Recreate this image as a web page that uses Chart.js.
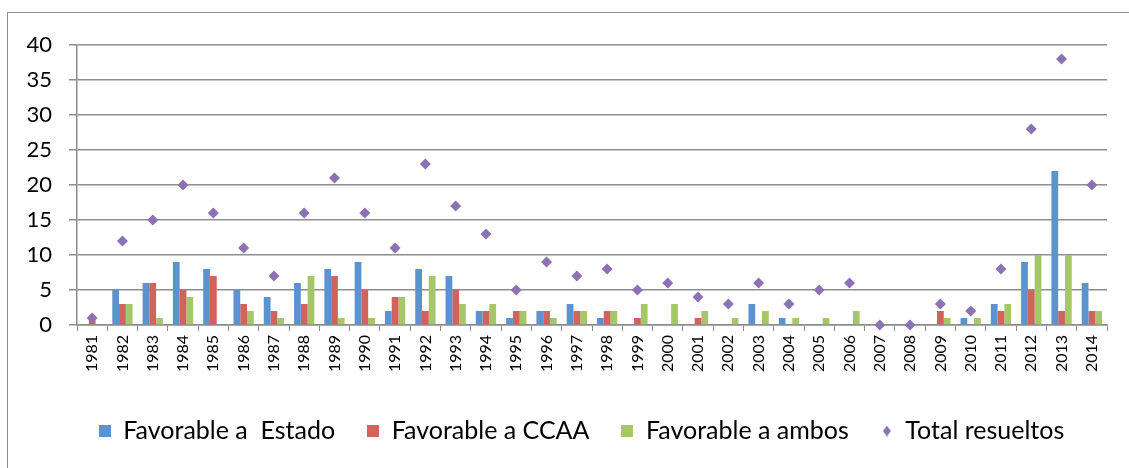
<!DOCTYPE html>
<html>
<head>
<meta charset="utf-8">
<script src="https://cdn.jsdelivr.net/npm/chart.js@4/dist/chart.umd.min.js"></script>
<style>
  html, body { margin: 0; padding: 0; background: #fff; }
  #wrap { position: relative; width: 1129px; height: 468px; }
  #frame { position: absolute; left: 7px; top: 12px; right: -5px; bottom: -5px; border-left: 1px solid #8c8c8c; border-top: 1px solid #8c8c8c; }
  canvas { position: absolute; left: 0; top: 0; }
</style>
</head>
<body>
<div id="wrap">
  <div id="frame"></div>
  <canvas id="c" width="1129" height="468"></canvas>
</div>
<script>
const years = ['1981','1982','1983','1984','1985','1986','1987','1988','1989','1990','1991','1992','1993','1994','1995','1996','1997','1998','1999','2000','2001','2002','2003','2004','2005','2006','2007','2008','2009','2010','2011','2012','2013','2014'];
const favorableEstado = [0,5,6,9,8,5,4,6,8,9,2,8,7,2,1,2,3,1,0,0,0,0,3,1,0,0,0,0,0,1,3,9,22,6];
const favorableCCAA   = [1,3,6,5,7,3,2,3,7,5,4,2,5,2,2,2,2,2,1,0,1,0,0,0,0,0,0,0,2,0,2,5,2,2];
const favorableAmbos  = [0,3,1,4,0,2,1,7,1,1,4,7,3,3,2,1,2,2,3,3,2,1,2,1,1,2,0,0,1,1,3,10,10,2];
const totalResueltos  = [1,12,15,20,16,11,7,16,21,16,11,23,17,13,5,9,7,8,5,6,4,3,6,3,5,6,0,0,3,2,8,28,38,20];
const yTicks = [0,5,10,15,20,25,30,35,40];

const seriesNames = ['Favorable a  Estado','Favorable a CCAA','Favorable a ambos','Total resueltos'];
const colors = ['#5B93D0','#D0635C','#A6C66A','#8C72B4'];

function squareMarker(color) {
  const cv = document.createElement('canvas');
  cv.width = 12; cv.height = 12;
  const g = cv.getContext('2d');
  g.fillStyle = color; g.fillRect(0,0,12,12);
  return cv;
}
function diamondMarker(color) {
  const cv = document.createElement('canvas');
  cv.width = 8; cv.height = 11;
  const g = cv.getContext('2d');
  g.fillStyle = color;
  g.beginPath(); g.moveTo(4,0); g.lineTo(8,5.5); g.lineTo(4,11); g.lineTo(0,5.5); g.closePath(); g.fill();
  return cv;
}
const legendMarkers = [squareMarker(colors[0]), squareMarker(colors[1]), squareMarker(colors[2]), diamondMarker(colors[3])];

const FONT = 'Lato, "Open Sans", sans-serif';

const shiftLegend = {
  id: 'shiftLegend',
  afterLayout(chart) {
    const d = 28;
    chart.legend.left += d;
    chart.legend.right += d;
  }
};

new Chart(document.getElementById('c'), {
  type: 'bar',
  data: {
    labels: years,
    datasets: [
      { label: seriesNames[0], data: favorableEstado, backgroundColor: colors[0], order: 1, categoryPercentage: 0.67, barPercentage: 1.0 },
      { label: seriesNames[1], data: favorableCCAA, backgroundColor: colors[1], order: 1, categoryPercentage: 0.67, barPercentage: 1.0 },
      { label: seriesNames[2], data: favorableAmbos, backgroundColor: colors[2], order: 1, categoryPercentage: 0.67, barPercentage: 1.0 },
      { type: 'line', label: seriesNames[3], data: totalResueltos, showLine: false, pointStyle: 'rectRot', pointRadius: 5.5, pointHoverRadius: 5.5, pointBackgroundColor: colors[3], pointBorderColor: colors[3], pointBorderWidth: 0, backgroundColor: colors[3], borderColor: colors[3], order: 0, clip: false }
    ]
  },
  plugins: [shiftLegend],
  options: {
    responsive: false,
    animation: false,
    devicePixelRatio: 1,
    layout: { padding: { left: 0, right: 22, top: 45, bottom: 14.5 } },
    plugins: {
      tooltip: { enabled: false },
      legend: {
        position: 'bottom',
        labels: {
          usePointStyle: true,
          boxWidth: 12,
          boxHeight: 12,
          padding: 32,
          color: '#000',
          font: { family: FONT, size: 25 },
          sort: (a, b) => a.datasetIndex - b.datasetIndex,
          generateLabels: (chart) => {
            const items = Chart.defaults.plugins.legend.labels.generateLabels(chart);
            items.forEach(it => { it.pointStyle = legendMarkers[it.datasetIndex]; });
            return items;
          }
        }
      }
    },
    scales: {
      x: {
        grid: { display: true, drawOnChartArea: false, drawTicks: true, tickLength: 6, offset: true, color: '#8c8c8c', lineWidth: 1 },
        border: { display: true, color: '#8c8c8c', width: 1.5 },
        ticks: { color: '#000', font: { family: FONT, size: 16 }, maxRotation: 90, minRotation: 90, padding: 4, autoSkip: false },
        afterFit: (s) => { s.height = 61.5; }
      },
      y: {
        min: 0, max: 40,
        afterBuildTicks: (s) => { s.ticks = yTicks.map(v => ({ value: v })); },
        grid: { color: '#8e8e8e', lineWidth: 1.5, drawTicks: true, tickLength: 8 },
        border: { display: true, color: '#8c8c8c', width: 1.5 },
        ticks: { color: '#000', font: { family: FONT, size: 22 }, padding: 17 },
        afterFit: (s) => { s.width = 77; }
      }
    }
  }
});
</script>
</body>
</html>
